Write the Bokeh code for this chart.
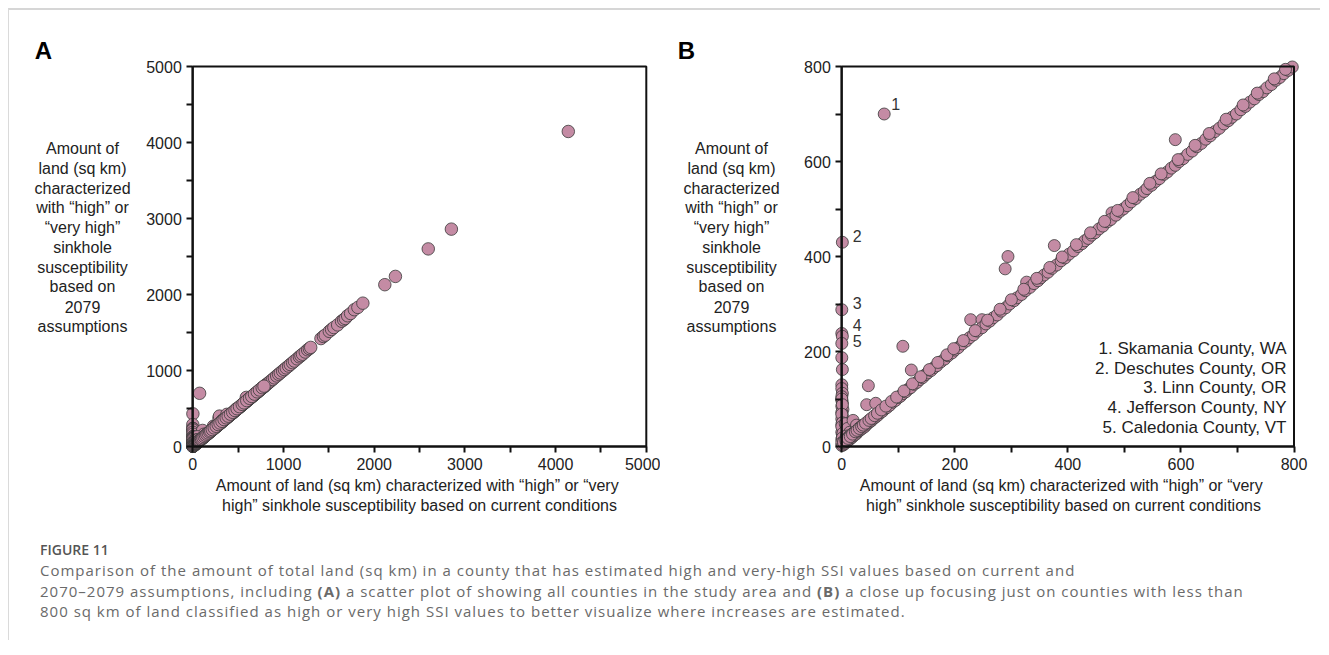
from bokeh.plotting import figure
from bokeh.models import Range1d, FixedTicker, Label, Div, BoxAnnotation, ColumnDataSource
from bokeh.layouts import column, row
from bokeh.embed import file_html
from bokeh.resources import INLINE

# ---------------- data (sq km, current vs 2079) ----------------
# counties sitting on / near x = 0 (current) with positive 2079 values
zero_x = [1, 0, 0, 1, 0, 0, 1, 0, 0, 1, 0, 0, 1, 0, 2, 0, 1, 0, 2, 0, 1, 3, 0, 2, 1, 0, 2, 1, 0,
          0, 1, 0, 1, 0, 2, 1, 0]
zero_y = [430, 288, 238, 232, 217, 187, 162, 130, 122, 112, 105, 98, 92, 85, 78, 72, 65, 58, 52, 46,
          40, 35, 30, 25, 20, 15, 10, 5, 2,
          100, 88, 68, 50, 42, 28, 18, 8]
# other off-diagonal counties
off_x = [6, 10, 14, 20, 26, 8, 12, 18, 30, 4, 36, 5, 9, 13, 3, 16, 22, 7,
         75, 108, 123, 47, 44, 60, 228, 248, 289, 294, 376, 327, 590, 478]
off_y = [48, 38, 30, 55, 45, 22, 18, 26, 38, 12, 44, 8, 16, 22, 6, 24, 30, 14,
         700, 211, 161, 128, 88, 91, 267, 267, 374, 400, 423, 346, 646, 492]
# counties close to the 1:1 line
diag_x = [2, 4, 6, 8, 10, 12, 14, 16, 18, 20, 22, 25, 28, 30, 33, 36, 40, 43, 46, 50, 53, 56, 60, 64, 68,
          72, 76, 80, 85, 90, 95, 100, 104, 108, 113, 118, 122, 128, 133, 138, 143, 148, 152, 158, 163,
          168, 175, 182, 188, 195, 200, 206, 213, 220, 226, 233, 240, 248, 255, 262, 268, 275, 282, 290,
          297, 305, 310, 318, 325, 333, 340, 347, 352, 358, 365, 372, 380, 388, 395, 402, 410, 418, 425,
          430, 436, 442, 448, 455, 462, 470, 476, 485, 492, 498, 505, 512, 520, 528, 535, 540, 548, 555,
          562, 570, 576, 583, 590, 597, 604, 612, 620, 628, 636, 644, 652, 660, 668, 676, 684, 690, 698,
          706, 714, 722, 730, 738, 745, 752, 760, 768, 775, 782, 790, 797,
          810, 825, 840, 860, 880, 900, 925, 946, 965, 990, 1010, 1030, 1056, 1075, 1100, 1120, 1150,
          1175, 1192, 1210, 1240, 1266, 1285, 1300, 1413, 1440, 1460, 1505, 1530, 1555, 1597, 1640,
          1663, 1681, 1707, 1740, 1781, 1820, 1875, 2117, 2234, 2596, 2851, 4140]
diag_y = [3, 5, 7, 10, 11, 14, 15, 18, 19, 22, 24, 26, 30, 33, 35, 38, 41, 45, 49, 52, 55, 59, 62, 66, 71,
          74, 79, 82, 87, 93, 97, 103, 106, 111, 115, 121, 124, 131, 135, 141, 145, 151, 155, 160, 166,
          170, 178, 184, 191, 197, 203, 208, 216, 222, 229, 235, 243, 250, 258, 264, 271, 277, 285, 292,
          300, 307, 313, 320, 328, 335, 343, 349, 355, 361, 367, 375, 382, 391, 397, 405, 412, 421, 427,
          433, 438, 445, 450, 458, 464, 473, 478, 487, 495, 500, 507, 515, 522, 531, 537, 543, 550, 558,
          564, 573, 578, 586, 592, 600, 606, 615, 622, 631, 638, 647, 654, 663, 670, 679, 686, 693, 700,
          709, 716, 725, 732, 741, 747, 755, 762, 771, 777, 785, 792, 799,
          812, 828, 842, 863, 882, 903, 928, 950, 968, 993, 1013, 1034, 1058, 1079, 1103, 1124, 1153,
          1179, 1195, 1214, 1243, 1272, 1288, 1304, 1420, 1448, 1465, 1515, 1540, 1565, 1600, 1648,
          1667, 1685, 1720, 1750, 1800, 1830, 1886, 2129, 2238, 2600, 2860, 4145]
# a second band of counties just above the 1:1 line
band_x = [3, 7, 11, 15, 19, 24, 27, 31, 35, 38, 42, 48, 52, 58, 63, 70, 78, 88, 97, 110, 125, 140, 155,
          170, 186, 198, 215, 236, 258, 280, 300, 322, 345, 368, 390, 415, 440, 465, 488, 515, 545, 565,
          595, 625, 650, 680, 710, 735, 765, 785]
band_y = [9, 13, 17, 21, 26, 31, 34, 38, 42, 45, 49, 55, 59, 65, 70, 77, 85, 95, 104, 117, 132, 147, 162,
          177, 193, 206, 223, 244, 266, 289, 309, 331, 354, 377, 399, 425, 450, 474, 497, 524, 554, 574,
          604, 634, 659, 689, 719, 744, 774, 794]

x_current = zero_x + off_x + diag_x + band_x
y_2079 = zero_y + off_y + diag_y + band_y

a_ticks = [0, 1000, 2000, 3000, 4000, 5000]
a_minor = [500, 1500, 2500, 3500, 4500]
b_ticks = [0, 200, 400, 600, 800]
b_minor = [100, 300, 500, 700]

y_title_lines = ["Amount of", "land (sq km)", "characterized", "with \u201chigh\u201d or",
                 "\u201cvery high\u201d", "sinkhole", "susceptibility", "based on", "2079", "assumptions"]
x_title_lines = ["Amount of land (sq km) characterized with \u201chigh\u201d or  \u201cvery",
                 "high\u201d sinkhole susceptibility based on current conditions"]

ann_x = [75, 0, 0, 0, 0]
ann_y = [700, 430, 288, 238, 217]
ann_text = ["1", "2", "3", "4", "5"]
ann_dy = [10, 6, 7, 8, 2]
ann_dx = [7, 11, 11, 11, 11]

legend_lines = ["1. Skamania County, WA", "2. Deschutes County, OR", "3. Linn County, OR",
                "4. Jefferson County, NY", "5. Caledonia County, VT"]

# ---------------- layout / styling ----------------
FONT = "Liberation Sans"
PINK = "#c48ba4"
EDGE = "#3a3a3a"
TXT = "#222222"
FIG_H = 530
FIG_TOP = 10          # page y of figure top (8 margin + 2 border)
AXIS_BOTTOM = 446     # page y of value 0
AXIS_TOP = 66         # page y of max value


def make_panel(fig_left, width, axis_left, axis_right, xmax, ticks, minor, msize, letter,
               ytitle_cx, xtitle_cx):
    fig_bottom = FIG_TOP + FIG_H
    ux = xmax / (axis_right - axis_left)
    uy = xmax / (AXIS_BOTTOM - AXIS_TOP)
    x0 = -(axis_left - fig_left) * ux
    y0 = -(fig_bottom - AXIS_BOTTOM) * uy
    p = figure(width=width, height=FIG_H, output_backend="svg", toolbar_location=None,
               x_range=Range1d(x0, x0 + width * ux), y_range=Range1d(y0, y0 + FIG_H * uy),
               min_border=0, min_border_left=0, min_border_right=0, min_border_top=0,
               min_border_bottom=0)
    p.outline_line_color = None
    p.grid.visible = False
    p.background_fill_color = "white"
    p.border_fill_color = "white"
    for ax in (p.xaxis, p.yaxis):
        ax.ticker = FixedTicker(ticks=ticks, minor_ticks=minor)
        ax.fixed_location = 0
        ax.bounds = (0, xmax)
        ax.axis_line_width = 2
        ax.axis_line_color = "#111111"
        ax.major_tick_line_width = 2
        ax.major_tick_line_color = "#111111"
        ax.minor_tick_line_width = 2
        ax.minor_tick_line_color = "#111111"
        ax.major_tick_out = 6
        ax.major_tick_in = 0
        ax.minor_tick_out = 6
        ax.minor_tick_in = 0
        ax.major_label_text_font = FONT
        ax.major_label_text_font_size = "16px"
        ax.major_label_text_color = TXT
        ax.major_label_standoff = 5
    p.add_layout(BoxAnnotation(left=0, right=xmax, bottom=0, top=xmax, fill_alpha=0,
                               line_color="#111111", line_alpha=1.0, line_width=2))
    keep = [i for i in range(len(x_current)) if x_current[i] <= xmax and y_2079[i] <= xmax]
    src = ColumnDataSource(dict(x=[x_current[i] for i in keep], y=[y_2079[i] for i in keep]))
    p.scatter("x", "y", source=src, size=msize, fill_color=PINK, line_color=EDGE, line_width=0.8)

    def lab(text, page_x, page_y, size="16px", align="center", bold=False, color=TXT):
        p.add_layout(Label(x=page_x - fig_left, y=fig_bottom - page_y,
                           x_units="screen", y_units="screen", text=text, text_font=FONT,
                           text_font_size=size, text_color=color, text_align=align,
                           text_baseline="middle", text_font_style="bold" if bold else "normal"))

    for i, t in enumerate(y_title_lines):
        lab(t, ytitle_cx, 148 + i * 19.75)
    for i, t in enumerate(x_title_lines):
        lab(t, xtitle_cx, 485 + i * 20)
    lab(letter, letter_x[letter], 50, size="24px", bold=True, color="#000000")
    return p, lab


letter_x = {"A": 43, "B": 686}

pA, labA = make_panel(9, 651, 192.3, 645.8, 5000, a_ticks, a_minor, 12.5, "A", 82, 419)
pB, labB = make_panel(660, 660, 841.3, 1293.5, 800, b_ticks, b_minor, 12, "B", 731, 1063)

for t, x, y, dx, dy in zip(ann_text, ann_x, ann_y, ann_dx, ann_dy):
    pB.add_layout(Label(x=x, y=y, x_offset=dx, y_offset=dy, text=t, text_font=FONT,
                        text_font_size="16px", text_color="#333333", text_align="left",
                        text_baseline="middle"))

for i, t in enumerate(legend_lines):
    labB(t, 1286, 348 + i * 19.7, size="17px", align="right")

caption_html = (
    "<div style=\"font-family:'Open Sans',sans-serif;\">"
    "<div style=\"font-size:14px;line-height:20px;font-weight:600;color:#555;\">FIGURE 11</div>"
    "<div style=\"font-size:15px;line-height:20.5px;color:#6a6a6a;white-space:nowrap;"
    "letter-spacing:1px;\">"
    "Comparison of the amount of total land (sq km) in a county that has estimated high and very-high "
    "SSI values based on current and<br>"
    "2070\u20132079 assumptions, including <b>(A)</b> a scatter plot of showing all counties in the study "
    "area and <b>(B)</b> a close up focusing just on counties with less than<br>"
    "800 sq km of land classified as high or very high SSI values to better visualize where increases "
    "are estimated.</div></div>"
)
caption = Div(text=caption_html, width=1280, height=100,
              styles={"padding-left": "31px", "margin": "0"})

layout = column(row(pA, pB), caption,
                styles={"border-top": "2px solid #d6d6d6", "border-left": "1px solid #dadada",
                        "background": "white", "margin-top": "8px", "margin-left": "8px"})

open("out.html", "w").write(file_html(layout, INLINE))
